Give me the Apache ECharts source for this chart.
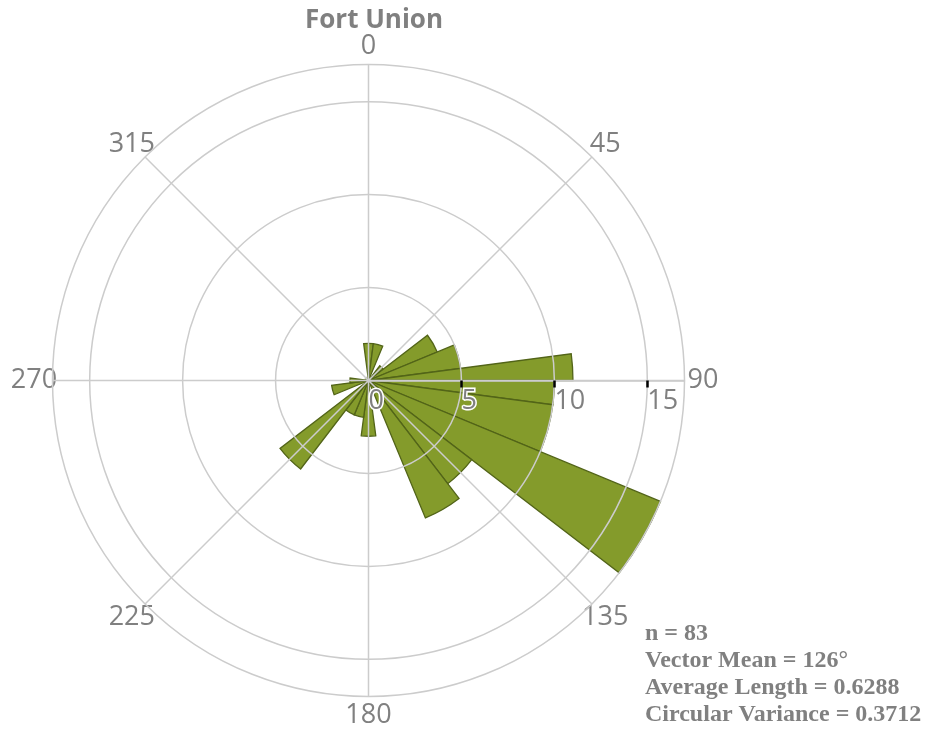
<!DOCTYPE html>
<html>
<head>
<meta charset="utf-8">
<script src="https://cdn.jsdelivr.net/npm/echarts@6/dist/echarts.min.js"></script>
<style>
  html, body { margin: 0; padding: 0; background: #fff; }
  #chart { width: 931px; height: 730px; }
</style>
</head>
<body>
<div id="chart"></div>
<script>
// rose bins, compass degrees (clockwise from north)
const binStart = [-7.5, 7.5, 37.5, 52.5, 67.5, 82.5, 90, 97.5, 112.5, 127.5, 142.5, 172.5, 187.5, 202.5, 217.5, 247.5, 262.5];
const binEnd   = [7.5, 22.5, 52.5, 67.5, 82.5, 90, 97.5, 112.5, 127.5, 142.5, 157.5, 187.5, 202.5, 217.5, 232.5, 262.5, 277.5];
const counts   = [2, 2, 1, 4, 5, 11, 10, 10, 17, 7, 8, 3, 2, 2, 6, 2, 1];

const radialTicks = [0, 5, 10, 15];
const statLines = ['n = 83', 'Vector Mean = 126°', 'Average Length = 0.6288', 'Circular Variance = 0.3712'];

const grey = '#808080';
const gridGrey = '#cccccc';

// angle axis starts at east (90) so the radius axis lies along 90
function toAxisAngle(a) {
  return a < 90 ? a + 360 : a;
}

const roseData = counts.map((c, i) => {
  const s = toAxisAngle(binStart[i]);
  return [s, s + (binEnd[i] - binStart[i]), c];
});

const chart = echarts.init(document.getElementById('chart'));

const option = {
  animation: false,
  title: {
    text: 'Fort Union',
    left: 369,
    top: 3,
    textAlign: 'center',
    textStyle: { fontFamily: 'Open Sans', fontWeight: 'bold', fontSize: 26, color: grey }
  },
  polar: { center: [368.5, 380.5], radius: 316 },
  angleAxis: {
    type: 'value',
    min: 90,
    max: 450,
    interval: 45,
    startAngle: 0,
    clockwise: true,
    z: 5,
    axisLine: { lineStyle: { color: gridGrey, width: 1.5 } },
    axisTick: { show: false },
    splitLine: { lineStyle: { color: gridGrey, width: 1.5 } },
    axisLabel: {
      margin: 18,
      align: 'center',
      verticalAlign: 'middle',
      fontFamily: 'Open Sans',
      fontSize: 27,
      color: grey,
      // tiny box so every label is centred on the same radius
      formatter: v => (v === 450 ? '' : '{a|' + (v % 360) + '}'),
      rich: {
        a: { width: 1, height: 1, align: 'center', fontFamily: 'Open Sans', fontSize: 27, color: grey }
      }
    }
  },
  radiusAxis: {
    type: 'value',
    min: 0,
    max: 17,
    interval: 5,
    z: 5,
    axisLine: { lineStyle: { color: gridGrey, width: 1.5 } },
    axisTick: {
      show: true,
      customValues: [5, 10, 15],
      length: -7,
      lineStyle: { color: '#000', width: 2.5 }
    },
    splitLine: { lineStyle: { color: gridGrey, width: 1.5 } },
    axisLabel: {
      customValues: radialTicks,
      align: 'left',
      verticalAlign: 'top',
      margin: -7,
      fontFamily: 'Open Sans',
      fontSize: 27,
      color: grey,
      textBorderColor: '#fff',
      textBorderWidth: 3
    }
  },
  series: [{
    type: 'custom',
    coordinateSystem: 'polar',
    z: 2,
    data: roseData,
    renderItem: function (params, api) {
      const cs = params.coordSys;
      const v = api.value(2);
      const p0 = api.coord([v, api.value(0)]);
      const p1 = api.coord([v, api.value(1)]);
      const r = Math.hypot(p0[0] - cs.cx, p0[1] - cs.cy);
      const a0 = Math.atan2(p0[1] - cs.cy, p0[0] - cs.cx);
      let a1 = Math.atan2(p1[1] - cs.cy, p1[0] - cs.cx);
      if (a1 <= a0) a1 += Math.PI * 2;
      return {
        type: 'sector',
        shape: { cx: cs.cx, cy: cs.cy, r0: 0, r: r, startAngle: a0, endAngle: a1, clockwise: true },
        style: { fill: '#849b2b', stroke: '#526418', lineWidth: 1.3 }
      };
    }
  }],
  graphic: [{
    type: 'text',
    left: 645,
    top: 620,
    style: {
      text: statLines.join('\n'),
      font: 'bold 24px "Liberation Serif"',
      lineHeight: 27,
      fill: grey
    }
  }]
};

chart.setOption(option);
</script>
</body>
</html>
